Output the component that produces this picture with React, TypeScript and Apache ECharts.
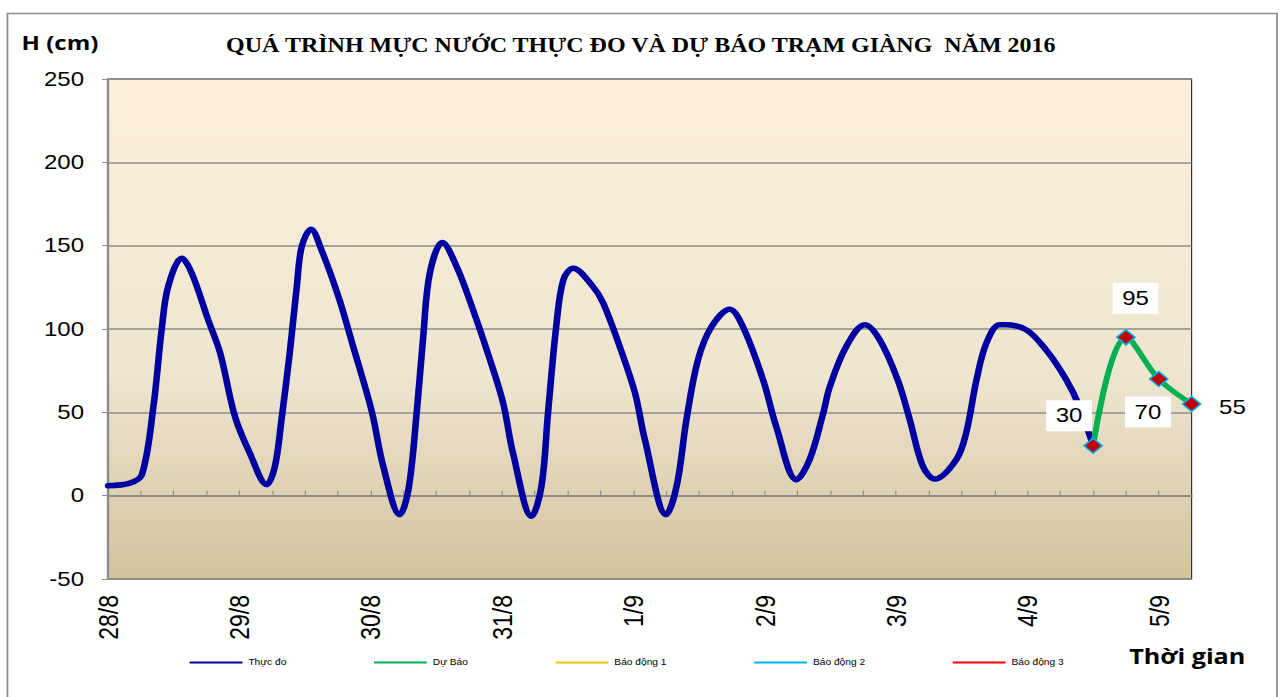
import React, { useEffect, useRef } from "react";
import * as echarts from "echarts";

const dayLabels = ["28/8", "29/8", "30/8", "31/8", "1/9", "2/9", "3/9", "4/9", "5/9"];
const obsHours = [
  0, 4, 6.2, 8.3, 9.8, 11.0, 13.5, 15.3, 18.3, 20.5, 23.2, 25.9, 29.0, 30.5, 31.7,
  33.2, 34.5, 35.4, 37.1, 39.0, 42.1, 44.8, 48.2, 50.3, 53.3, 54.9, 56.4, 57.6, 58.8,
  61.1, 63.7, 66.7, 69.8, 72.2, 74.0, 77.4, 79.2, 80.4, 81.9, 83.2, 85.0, 88.6, 90.5,
  93.5, 96.3, 98.1, 102.0, 103.9, 105.7, 107.8, 110.3, 113.6, 116.0, 119.7, 122.1,
  125.8, 128.2, 130.7, 131.9, 134.9, 138.3, 141.0, 144.3, 146.5, 148.9, 151.1, 155.0,
  156.8, 158.7, 160.5, 162.9, 164.1, 167.8, 171.4, 175.1, 177.5, 180.0,
];
const obsLevel = [
  6, 7.5, 12.6, 53.5, 99.5, 125.5, 142.5, 133.5, 105.5, 85.5, 47.5, 25.6, 6.6, 17.6, 45.6,
  85.5, 125.5, 149.5, 159.9, 147.5, 119.5, 89.5, 50.5, 17.6, -11.4, 3.6, 49.6, 95.5, 133.5,
  151.9, 137.5, 111.5, 81.5, 55.6, 25.6, -12.4, 5.6, 49.6, 101.5, 129.5, 136.5, 125.5, 115.5,
  89.5, 61.6, 33.6, -11.4, 5.6, 45.6, 81.5, 101.5, 111.9, 101.5, 69.5, 41.5,
  9.6, 21.6, 49.6, 65.5, 89.5, 102.5, 93.5, 69.5, 45.6, 17.6, 10, 21.6,
  37.6, 69.5, 91.5, 102.5, 102.5, 99.5, 87.5, 69.5, 53.5, 30,
];
const fcHours = [180, 186, 192, 198];
const fcLevel = [30, 95, 70, 55];
const fcLabelOffsets: [number, number][] = [[-20, -30], [8, -39], [-9, 33], [34, 3]];
const seriesNames = ["Thực đo", "Dự Báo", "Báo động 1", "Báo động 2", "Báo động 3"];
const seriesColors = ["#0000a0", "#00b050", "#ffc000", "#00b0f0", "#ff0000"];

// The reference picture is stretched horizontally; draw narrower and stretch.
const STRETCH = 1.2;
const W = 1282 / STRETCH;
const H = 697;

export default function App() {
  const ref = useRef<HTMLDivElement>(null);
  useEffect(() => {
    document.body.style.margin = "0";
    const chart = echarts.init(ref.current!, null, { renderer: "svg" });
    const obsData = obsHours.map((h, i) => [h, obsLevel[i]]);
    const fcData = fcHours.map((h, i) => ({
      value: [h, fcLevel[i]],
      label: { offset: fcLabelOffsets[i] },
    }));
    chart.setOption({
      animation: false,
      backgroundColor: "#ffffff",
      title: {
        text: "QUÁ TRÌNH MỰC NƯỚC THỰC ĐO VÀ DỰ BÁO TRẠM GIÀNG  NĂM 2016",
        left: "center",
        top: 30,
        textStyle: {
          fontFamily: "Liberation Serif",
          fontWeight: "bold",
          fontSize: 20,
          color: "#000",
        },
      },
      graphic: [
        {
          type: "rect",
          shape: { x: 6.2, y: 13.5, width: 1058, height: 700 },
          style: { fill: "none", stroke: "#8c8c8c", lineWidth: 1.5 },
          silent: true,
        },
        {
          type: "text",
          left: 18,
          top: 32,
          style: { text: "H (cm)", font: "bold 20px 'Open Sans'", fill: "#000" },
        },
        {
          type: "text",
          left: 941,
          top: 645,
          style: { text: "Thời gian", font: "bold 21px 'Open Sans'", fill: "#000" },
        },
      ],
      legend: {
        left: 153,
        top: 653,
        itemWidth: 44,
        itemHeight: 2,
        itemGap: 73,
        icon: "rect",
        textStyle: { fontSize: 8.5, fontFamily: "Liberation Sans", color: "#000" },
        data: seriesNames.map((n, i) => ({
          name: n,
          itemStyle: { color: seriesColors[i], borderWidth: 0 },
        })),
      },
      grid: {
        left: 90,
        right: 75,
        top: 79,
        bottom: 118,
        show: true,
        borderColor: "#333",
        borderWidth: 1,
        backgroundColor: {
          type: "linear",
          x: 0,
          y: 0,
          x2: 0,
          y2: 1,
          colorStops: [
            { offset: 0, color: "#fcf0dc" },
            { offset: 0.6, color: "#eee5cf" },
            { offset: 1, color: "#d3c39e" },
          ],
        },
      },
      xAxis: {
        type: "value",
        min: 0,
        max: 198,
        interval: 6,
        splitLine: { show: false },
        axisLine: { lineStyle: { color: "#8c8c8c", width: 2 } },
        axisTick: { inside: true, length: 5, lineStyle: { color: "#8c8c8c" } },
        axisLabel: {
          rotate: 90,
          margin: 16,
          fontSize: 23,
          fontFamily: "Liberation Sans",
          color: "#000",
          showMaxLabel: false,
          formatter: (v: number) => (v % 24 === 0 ? dayLabels[v / 24] : ""),
        },
      },
      yAxis: {
        type: "value",
        min: -50,
        max: 250,
        interval: 50,
        axisLine: { show: true, lineStyle: { color: "#8c8c8c", width: 2 } },
        axisTick: { show: true, length: 5, lineStyle: { color: "#8c8c8c" } },
        splitLine: { lineStyle: { color: "#8c8c8c", width: 1.5 } },
        axisLabel: {
          margin: 20,
          fontSize: 20,
          fontFamily: "Liberation Sans",
          color: "#000",
        },
      },
      series: [
        {
          name: seriesNames[0],
          type: "line",
          data: obsData,
          smooth: 0.35,
          showSymbol: false,
          lineStyle: { color: seriesColors[0], width: 5.5, join: "round", cap: "round" },
          itemStyle: { color: seriesColors[0] },
          z: 3,
        },
        {
          name: seriesNames[1],
          type: "line",
          data: fcData,
          smooth: 0.35,
          symbol: "diamond",
          symbolSize: 15,
          lineStyle: { color: seriesColors[1], width: 5, cap: "round" },
          itemStyle: { color: "#c00000", borderColor: "#00b0f0", borderWidth: 1.5 },
          label: {
            show: true,
            position: "inside",
            fontSize: 20,
            lineHeight: 20,
            fontFamily: "Liberation Sans",
            color: "#000",
            backgroundColor: "#ffffff",
            padding: [6, 8, 5, 8],
          },
          z: 4,
        },
        {
          name: seriesNames[2],
          type: "line",
          data: [],
          itemStyle: { color: seriesColors[2] },
          lineStyle: { color: seriesColors[2] },
        },
        {
          name: seriesNames[3],
          type: "line",
          data: [],
          itemStyle: { color: seriesColors[3] },
          lineStyle: { color: seriesColors[3] },
        },
        {
          name: seriesNames[4],
          type: "line",
          data: [],
          itemStyle: { color: seriesColors[4] },
          lineStyle: { color: seriesColors[4] },
        },
      ],
    });
    return () => chart.dispose();
  }, []);
  return (
    <div
      ref={ref}
      style={{
        position: "fixed",
        left: 0,
        top: 0,
        width: W,
        height: H,
        transform: `scaleX(${STRETCH})`,
        transformOrigin: "0 0",
      }}
    />
  );
}
